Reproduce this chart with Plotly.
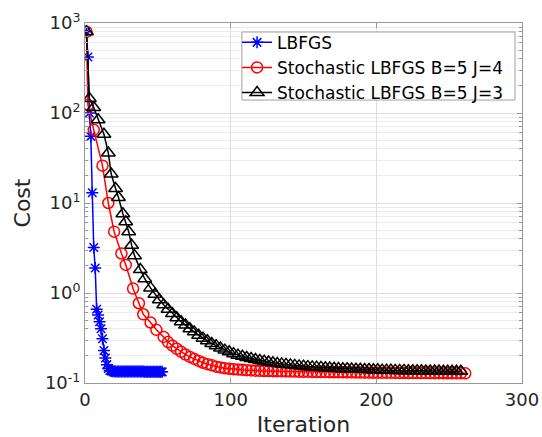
import plotly.graph_objects as go

# ---------------- data ----------------
lbfgs_x = [1, 2, 3, 4, 5, 6, 7, 8, 9, 10, 11, 12, 13, 14, 15, 16, 17, 18, 19, 20,
           21, 22, 23, 24, 25, 26, 27, 28, 29, 30, 31, 32, 33, 34, 35, 36, 37, 38, 39, 40,
           41, 42, 43, 44, 45, 46, 47, 48, 49, 50, 51, 52, 53]
lbfgs_y = [800, 420, 100, 55, 13, 3.2, 1.9, 0.66, 0.57, 0.48, 0.40, 0.31, 0.23, 0.19, 0.16, 0.145, 0.138, 0.136, 0.135, 0.135,
           0.134, 0.134, 0.134, 0.134, 0.134, 0.134, 0.134, 0.134, 0.134, 0.134, 0.134, 0.134, 0.134, 0.134, 0.134, 0.134, 0.134, 0.134, 0.134, 0.134,
           0.133, 0.133, 0.133, 0.133, 0.133, 0.133, 0.133, 0.133, 0.133, 0.133, 0.133, 0.133, 0.133]

sl4_x = [1, 2, 6, 12, 16, 20, 25, 28, 33, 37, 40, 45, 49, 54,
         57, 60, 63, 66, 69, 72, 75, 78, 81, 84, 87, 90, 93, 96, 99, 102, 105, 108, 111, 114,
         117, 120, 123, 126, 129, 132, 135, 138, 141, 144, 147, 150, 153, 156, 159, 162, 165, 168,
         171, 174, 177, 180, 183, 186, 189, 192, 195, 198, 201, 204, 207, 210, 213, 216, 219, 222,
         225, 228, 231, 234, 237, 240, 243, 246, 249, 252, 255, 258, 261]
sl4_y = [800, 123, 65, 26, 10, 4.8, 2.75, 2.05, 1.12, 0.77, 0.58, 0.47, 0.39, 0.325,
         0.285, 0.26, 0.24, 0.222, 0.207, 0.195, 0.185, 0.176, 0.168, 0.162, 0.157, 0.152, 0.149, 0.146, 0.144, 0.142, 0.141, 0.140, 0.139, 0.138,
         0.137, 0.1365, 0.136, 0.1357, 0.1354, 0.135, 0.1347, 0.1344, 0.1341, 0.1338, 0.1335, 0.1332, 0.133, 0.1328, 0.1326, 0.1324, 0.1322, 0.132,
         0.1318, 0.1316, 0.1314, 0.1312, 0.131, 0.1308, 0.1306, 0.1304, 0.1302, 0.130, 0.1299, 0.1298, 0.1297, 0.1296, 0.1295, 0.1294, 0.1293, 0.1292,
         0.1291, 0.129, 0.1289, 0.1288, 0.1287, 0.1286, 0.1285, 0.1284, 0.1283, 0.1282, 0.1281, 0.128, 0.128]

sl3_x = [1, 3, 6, 9, 13, 16, 18, 21, 23, 26, 28, 30, 32, 34, 38, 41, 45, 48, 51, 54,
         57, 60, 63, 66, 69, 72, 75, 78, 81, 84, 87, 90, 93, 96, 99, 102, 105, 108, 111, 114,
         117, 120, 123, 126, 129, 132, 135, 138, 141, 144, 147, 150, 153, 156, 159, 162, 165, 168,
         171, 174, 177, 180, 183, 186, 189, 192, 195, 198, 201, 204, 207, 210, 213, 216, 219, 222,
         225, 228, 231, 234, 237, 240, 243, 246, 249, 252, 255, 258]
sl3_y = [800, 145, 115, 84, 58, 36, 21, 14.5, 11.5, 7.6, 6.2, 4.8, 3.4, 2.6, 1.82, 1.44, 1.14, 0.97, 0.84, 0.74,
         0.66, 0.59, 0.53, 0.48, 0.44, 0.40, 0.37, 0.34, 0.315, 0.295, 0.275, 0.26, 0.245, 0.232, 0.222, 0.212, 0.204, 0.198, 0.192, 0.187,
         0.182, 0.178, 0.174, 0.171, 0.168, 0.165, 0.163, 0.161, 0.159, 0.157, 0.155, 0.154, 0.152, 0.151, 0.150, 0.149, 0.148, 0.147,
         0.146, 0.145, 0.144, 0.144, 0.143, 0.142, 0.142, 0.141, 0.141, 0.140, 0.140, 0.139, 0.139, 0.139, 0.138, 0.138, 0.138, 0.137,
         0.137, 0.137, 0.137, 0.136, 0.136, 0.136, 0.136, 0.135, 0.135, 0.135, 0.135, 0.135]

names = ["LBFGS", "Stochastic LBFGS B=5 J=4", "Stochastic LBFGS B=5 J=3"]
x_ticks = [0, 100, 200, 300]
y_ticks = [0.1, 1, 10, 100, 1000]
y_tick_text = ["10<sup>-1</sup>", "10<sup>0</sup>", "10<sup>1</sup>", "10<sup>2</sup>", "10<sup>3</sup>"]

FONT = "DejaVu Sans"
TXT = "#262626"

fig = go.Figure()
fig.add_trace(go.Scatter(x=lbfgs_x, y=lbfgs_y, name=names[0], mode="lines+markers",
                         line=dict(color="#0000ff", width=1.5),
                         marker=dict(symbol="asterisk-open", size=10, color="#0000ff",
                                     line=dict(color="#0000ff", width=1.5))))
fig.add_trace(go.Scatter(x=sl4_x, y=sl4_y, name=names[1], mode="lines+markers",
                         line=dict(color="#ff0000", width=1.5),
                         marker=dict(symbol="circle-open", size=11, color="#ff0000",
                                     line=dict(color="#ff0000", width=1.5))))
fig.add_trace(go.Scatter(x=sl3_x, y=sl3_y, name=names[2], mode="lines+markers",
                         line=dict(color="#000000", width=1.5),
                         marker=dict(symbol="triangle-up-open", size=12, color="#000000",
                                     line=dict(color="#000000", width=1.5))))

# legend frame (MATLAB-style box) drawn behind the legend entries
fig.add_shape(type="rect", xref="paper", yref="paper",
              x0=0.359, x1=0.984, y0=0.786, y1=0.975,
              line=dict(color="#a0a0a0", width=1), fillcolor="white", layer="above")

fig.update_layout(
    width=542, height=437,
    margin=dict(l=85, r=20, t=23, b=54),
    paper_bgcolor="white", plot_bgcolor="white",
    font=dict(family=FONT, size=18, color=TXT),
    showlegend=True,
    legend=dict(x=0.348, y=0.995, xanchor="left", yanchor="top",
                bgcolor="rgba(0,0,0,0)", borderwidth=0,
                font=dict(family=FONT, size=17, color="black"),
                itemwidth=30, tracegroupgap=0),
    xaxis=dict(range=[0, 300], tickvals=x_ticks, ticktext=[str(v) for v in x_ticks],
               automargin=False,
               showgrid=True, gridcolor="#dedede", gridwidth=1,
               showline=True, linecolor="#999999", linewidth=1, mirror="ticks",
               ticks="inside", ticklen=5, tickcolor="#999999",
               zeroline=False, tickfont=dict(size=18, color=TXT),
               title=dict(text="Iteration", font=dict(size=22, color=TXT), standoff=8)),
    yaxis=dict(type="log", range=[-1, 3], tickvals=y_ticks, ticktext=y_tick_text,
               automargin=False,
               showgrid=True, gridcolor="#dedede", gridwidth=1,
               showline=True, linecolor="#999999", linewidth=1, mirror="ticks",
               ticks="inside", ticklen=5, tickcolor="#999999",
               zeroline=False, tickfont=dict(size=18, color=TXT),
               minor=dict(dtick="D1", showgrid=True, gridcolor="#ebebeb", gridwidth=1,
                          ticks="inside", ticklen=3, tickcolor="#999999"),
               title=dict(text="Cost", font=dict(size=22, color=TXT), standoff=8)),
)

fig.write_html("out.html", config={"displayModeBar": False},
               post_script="document.body.style.margin='0';document.body.style.overflow='hidden';")
